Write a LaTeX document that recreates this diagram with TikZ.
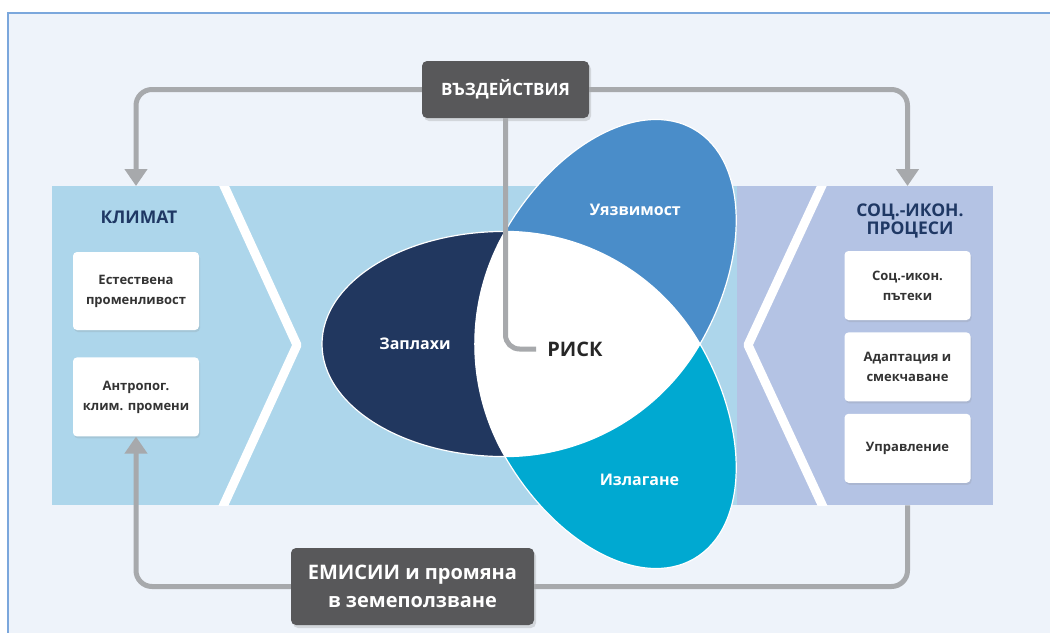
\documentclass[tikz,border=0pt]{standalone}
\usepackage{fontspec}
\setmainfont{Open Sans}
\usetikzlibrary{positioning,arrows.meta,shadows}

\definecolor{paneback}{HTML}{EEF3FA}
\definecolor{paneline}{HTML}{7BA7DC}
\definecolor{climblue}{HTML}{ADD6EB}
\definecolor{procblue}{HTML}{B4C3E4}
\definecolor{threatcol}{HTML}{21375F}
\definecolor{vulncol}{HTML}{4A8DC9}
\definecolor{expocol}{HTML}{00A9D1}
\definecolor{darkbox}{HTML}{58585A}
\definecolor{flowgray}{HTML}{A7A9AC}
\definecolor{titlenavy}{HTML}{1F3864}
\definecolor{cardtext}{HTML}{333333}

\tikzset{
  card/.style={fill=white, rounded corners=4pt, minimum width=126pt, align=center,
    text=cardtext, font=\fontsize{13}{20}\selectfont\bfseries,
    drop shadow={shadow xshift=1pt, shadow yshift=-2pt, opacity=0.18}},
  darkcard/.style={fill=darkbox, rounded corners=5pt, align=center, text=white,
    drop shadow={shadow xshift=2pt, shadow yshift=-3pt, opacity=0.25}},
  paneltitle/.style={text=titlenavy, align=center, font=\fontsize{17.5}{18}\selectfont\bfseries},
  petaltext/.style={text=white, font=\fontsize{16}{18}\selectfont\bfseries},
  flow/.style={draw=flowgray, line width=5pt, rounded corners=16pt},
  flowtip/.style={-{Triangle[width=22pt,length=17pt]}},
  chevron/.style={draw=white, line width=9pt, line join=round}
}

% petal: angle, colour, name, label position, label
\NewDocumentCommand{\petal}{mmmmm}{%
\begin{scope}[shift={(570,-344)}]%
\filldraw[fill=#2, draw=white, line width=1.2pt, rotate=#1] (65,-112.6)
  arc[start angle=-90, end angle=90, x radius=183, y radius=112.6] -- cycle;
\node[petaltext] (#3) at (#4) {#5};
\end{scope}%
}

\begin{document}
\begin{tikzpicture}[x=1pt, y=1pt]
\useasboundingbox (0,0) rectangle (1050,-633);
\fill[paneback] (8,-13) rectangle (1050,-633);
\draw[paneline, line width=1.2pt] (1050,-13) -- (8,-13) -- (8,-633);

% panels
\node[fill=climblue, inner sep=0pt, minimum width=685pt, minimum height=319pt, anchor=north west] (lpan) at (52,-186) {};
\node[fill=procblue, inner sep=0pt, minimum width=256pt, minimum height=319pt, anchor=north west] (rpan) at (737,-186) {};
\begin{scope}
\clip (52,-186) rectangle (993,-505);
\draw[chevron] (215,-166) -- (297,-345) -- (215,-524);
\draw[chevron] (831,-166) -- (748,-345) -- (831,-524);
\end{scope}

% petals and centre
\petal{180}{threatcol}{threat}{180:155}{Заплахи}
\petal{60}{vulncol}{vuln}{64:149}{Уязвимост}
\petal{-60}{expocol}{expo}{-63:153}{Излагане}
\filldraw[fill=white, draw=white, line width=1.2pt, shift={(570,-344)}] (120:130)
  arc[start angle=150, end angle=210, radius=225.17]
  arc[start angle=270, end angle=330, radius=225.17]
  arc[start angle=30, end angle=90, radius=225.17] -- cycle;
\node[font=\fontsize{20}{22}\selectfont\bfseries, text=black!85, inner sep=0pt] (risk) at (575,-349) {РИСК};

% panel contents
\node[paneltitle] (klimtitle) at (139,-217) {КЛИМАТ};
\node[card, minimum height=78pt] (est) at (136,-291) {Естествена\\променливост};
\node[card, minimum height=79pt, below=27pt of est] (antr) {Антропог.\\клим. промени};

\node[paneltitle] (proctitle) at (910,-221) {СОЦ.-ИКОН.\\ПРОЦЕСИ};
\node[card, minimum height=69pt] (path) at (907.5,-285.5) {Соц.-икон.\\пътеки};
\node[card, minimum height=69pt, below=12pt of path] (adapt) {Адаптация и\\смекчаване};
\node[card, minimum height=69pt, below=12pt of adapt] (gov) {Управление};

% dark boxes
\node[darkcard, minimum width=167pt, minimum height=57pt, font=\fontsize{17}{20}\selectfont\bfseries] (impact) at (505.5,-89.5) {ВЪЗДЕЙСТВИЯ};
\node[darkcard, minimum width=243pt, minimum height=77pt, font=\fontsize{20}{28}\selectfont\bfseries] (emis) at (412.5,-586.5) {ЕМИСИИ и промяна\\в земеползване};

% connectors
\draw[flow, flowtip] (impact.west) -| (est |- lpan.north);
\draw[flow, flowtip] (impact.east) -| (path |- rpan.north);
\draw[flow, flowtip] (emis.west) -| (antr.south);
\draw[flow] (emis.east) -| (gov |- rpan.south);
\draw[flow, rounded corners=14pt, shorten >=11pt] (impact.south) |- (risk.west);
\end{tikzpicture}
\end{document}
